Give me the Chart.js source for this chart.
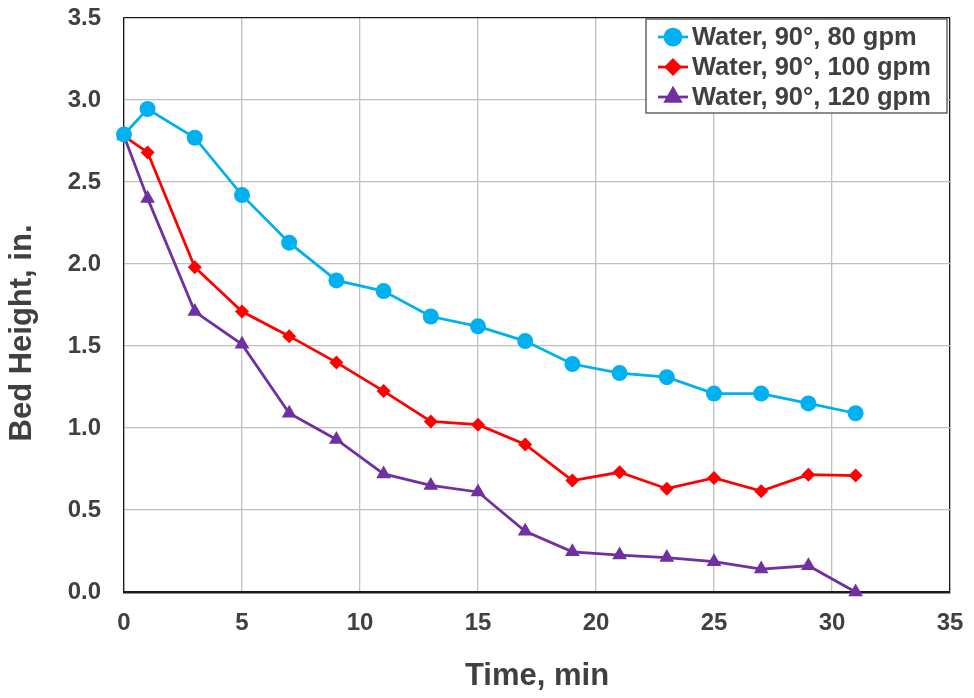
<!DOCTYPE html>
<html>
<head>
<meta charset="utf-8">
<script src="https://cdn.jsdelivr.net/npm/chart.js@4.4.1/dist/chart.umd.min.js"></script>
<style>
  html, body { margin: 0; padding: 0; background: #fff; }
  #wrap { width: 974px; height: 698px; }
</style>
</head>
<body>
<div id="wrap"><canvas id="lineChart"></canvas></div>
<script>
// data
const times = [0, 1, 3, 5, 7, 9, 11, 13, 15, 17, 19, 21, 23, 25, 27, 29, 31];
const gpm80 = [2.79, 2.945, 2.77, 2.42, 2.13, 1.90, 1.835, 1.68, 1.62, 1.53, 1.39, 1.335, 1.31, 1.21, 1.21, 1.15, 1.09];
const gpm100 = [2.78, 2.68, 1.98, 1.71, 1.56, 1.40, 1.225, 1.04, 1.02, 0.90, 0.68, 0.73, 0.63, 0.695, 0.615, 0.715, 0.71];
const gpm120 = [2.78, 2.40, 1.71, 1.51, 1.09, 0.93, 0.72, 0.65, 0.61, 0.37, 0.245, 0.225, 0.21, 0.185, 0.14, 0.16, 0.0];
const seriesNames = ['Water, 90°, 80 gpm', 'Water, 90°, 100 gpm', 'Water, 90°, 120 gpm'];
const xTicks = [0, 5, 10, 15, 20, 25, 30, 35];
const yTicks = [0, 0.5, 1.0, 1.5, 2.0, 2.5, 3.0, 3.5];
const yTitle = 'Bed Height, in.';

const textColor = '#404040';
const fontFam = '"Liberation Sans", Arial, sans-serif';

function pts(ys) {
    return times.map((t, i) => ({ x: t, y: ys[i] }));
}

// y title sits a bit below the middle of the axis, so draw it by hand
const sideTitle = {
    id: 'sideTitle',
    afterDraw(chart) {
        const c = chart.ctx;
        const area = chart.chartArea;
        c.save();
        c.translate(22, (area.top + area.bottom) / 2 + 28);
        c.rotate(-Math.PI / 2);
        c.font = 'bold 31px ' + fontFam;
        c.fillStyle = textColor;
        c.textAlign = 'center';
        c.textBaseline = 'middle';
        c.fillText(yTitle, 0, 0);
        c.restore();
    }
};

// legend box inside the plot, top right
const boxLegend = {
    id: 'boxLegend',
    afterDatasetsDraw(chart) {
        const c = chart.ctx;
        const area = chart.chartArea;
        const x0 = area.right - 304, y0 = area.top + 1, w = 301, h = 94;
        c.save();
        c.fillStyle = '#fff';
        c.fillRect(x0, y0, w, h);
        c.strokeStyle = '#404040';
        c.lineWidth = 1.2;
        c.strokeRect(x0, y0, w, h);
        c.font = 'bold 25.5px ' + fontFam;
        c.textBaseline = 'middle';
        chart.data.datasets.forEach((ds, i) => {
            const yy = y0 + 18 + i * 30;
            c.strokeStyle = ds.borderColor;
            c.lineWidth = 2.75;
            c.beginPath();
            c.moveTo(x0 + 12, yy);
            c.lineTo(x0 + 42, yy);
            c.stroke();
            Chart.helpers.drawPoint(c, {
                pointStyle: ds.pointStyle, radius: ds.pointRadius, borderWidth: 1
            }, x0 + 27, yy);
            c.fillStyle = ds.pointBackgroundColor;
            c.fill();
            c.fillStyle = textColor;
            c.fillText(ds.label, x0 + 46, yy + 1);
        });
        c.restore();
    }
};

const ctx = document.getElementById('lineChart');

new Chart(ctx, {
    type: 'line',
    data: {
        datasets: [
            {
                label: seriesNames[0],
                data: pts(gpm80),
                borderColor: '#00B0F0',
                backgroundColor: '#00B0F0',
                pointBackgroundColor: '#00B0F0',
                pointStyle: 'circle',
                pointRadius: 8
            },
            {
                label: seriesNames[1],
                data: pts(gpm100),
                borderColor: '#FF0000',
                backgroundColor: '#FF0000',
                pointBackgroundColor: '#FF0000',
                pointStyle: 'rectRot',
                pointRadius: 7
            },
            {
                label: seriesNames[2],
                data: pts(gpm120),
                borderColor: '#7030A0',
                backgroundColor: '#7030A0',
                pointBackgroundColor: '#7030A0',
                pointStyle: 'triangle',
                pointRadius: 8.5
            }
        ]
    },
    options: {
        responsive: true,
        maintainAspectRatio: false,
        animation: false,
        clip: false,
        layout: { padding: { top: 18, right: 24, left: 0, bottom: 0 } },
        elements: {
            line: { borderWidth: 2.75, tension: 0 },
            point: { borderWidth: 0, hoverRadius: 8 }
        },
        plugins: {
            legend: { display: false },
            tooltip: { enabled: false }
        },
        scales: {
            x: {
                type: 'linear',
                min: 0,
                max: 35,
                afterBuildTicks: s => { s.ticks = xTicks.map(v => ({ value: v })); },
                afterFit: s => { s.height = 106; s.paddingLeft = 0; s.paddingRight = 0; },
                border: { color: '#1a1a1a', width: 2.5 },
                grid: {
                    color: c => c.tick && c.tick.value === 35 ? '#1a1a1a' : '#BFBFBF',
                    lineWidth: 1.3,
                    drawTicks: false
                },
                ticks: {
                    color: textColor,
                    padding: 17,
                    font: { family: fontFam, size: 24, weight: 'bold' }
                },
                title: {
                    display: true,
                    text: 'Time, min',
                    color: textColor,
                    padding: { top: 0, bottom: 3 },
                    font: { family: fontFam, size: 31, weight: 'bold' }
                }
            },
            y: {
                min: 0,
                max: 3.5,
                afterBuildTicks: s => { s.ticks = yTicks.map(v => ({ value: v })); },
                afterFit: s => { s.width = 124; s.paddingTop = 0; s.paddingBottom = 0; },
                border: { color: '#1a1a1a', width: 1.3 },
                grid: {
                    color: c => c.tick && c.tick.value === 3.5 ? '#1a1a1a' : '#BFBFBF',
                    lineWidth: 1.3,
                    drawTicks: false
                },
                ticks: {
                    color: textColor,
                    padding: 23,
                    callback: v => v.toFixed(1),
                    font: { family: fontFam, size: 24, weight: 'bold' }
                }
            }
        }
    },
    plugins: [boxLegend, sideTitle]
});
</script>
</body>
</html>
